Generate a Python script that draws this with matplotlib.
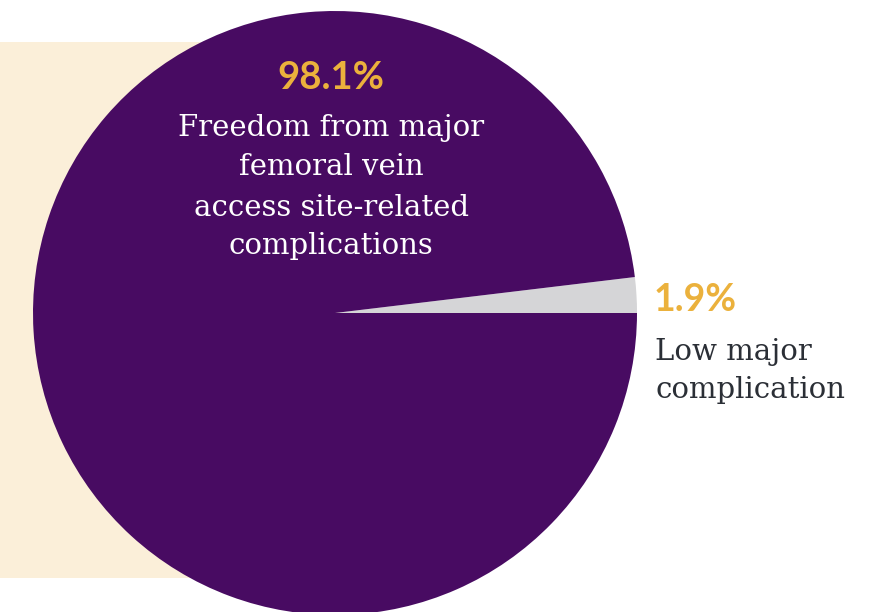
import matplotlib
matplotlib.use("Agg")
import matplotlib.pyplot as plt
from matplotlib.patches import Rectangle

labels = ["Low major\ncomplication", "Freedom from major\nfemoral vein\naccess site-related\ncomplications"]
values = [1.9, 98.1]
pct_labels = ["1.9%", "98.1%"]
colors = ["#D5D5D7", "#480B62"]

W, H = 872, 612
fig = plt.figure(figsize=(W / 100, H / 100), dpi=100)
ax = fig.add_axes([0, 0, 1, 1])
ax.set_xlim(0, W)
ax.set_ylim(0, H)
ax.set_aspect("equal")
ax.axis("off")

def py(y):
    return H - y

ax.add_patch(Rectangle((0, py(578)), 340, 578 - 42, facecolor="#FBEFD9", edgecolor="none", zorder=0))

ax.pie(values, colors=colors, startangle=0, counterclock=True, center=(335, py(313)),
       radius=302, wedgeprops=dict(linewidth=0), frame=True)
ax.set_xlim(0, W)
ax.set_ylim(0, H)
ax.axis("off")

gold = "#EBB13C"
sans = ["Lato", "DejaVu Sans"]
serif = ["DejaVu Serif"]

ax.text(331, py(78), pct_labels[1], color=gold, fontsize=27.5, fontweight="bold", family=sans,
        ha="center", va="center", zorder=5)
big_lines = labels[1].split("\n")
ys = [128, 167, 208, 246]
for line, y in zip(big_lines, ys):
    ax.text(331, py(y), line, color="white", fontsize=21, family=serif, ha="center", va="center", zorder=5)

ax.text(654, py(300), pct_labels[0], color=gold, fontsize=27, fontweight="bold", family=sans,
        ha="left", va="center", zorder=5)
for line, y in zip(labels[0].split("\n"), [352, 390]):
    ax.text(655, py(y), line, color="#2B2F36", fontsize=21, family=serif, ha="left", va="center", zorder=5)

fig.savefig("out.png", dpi=100)
